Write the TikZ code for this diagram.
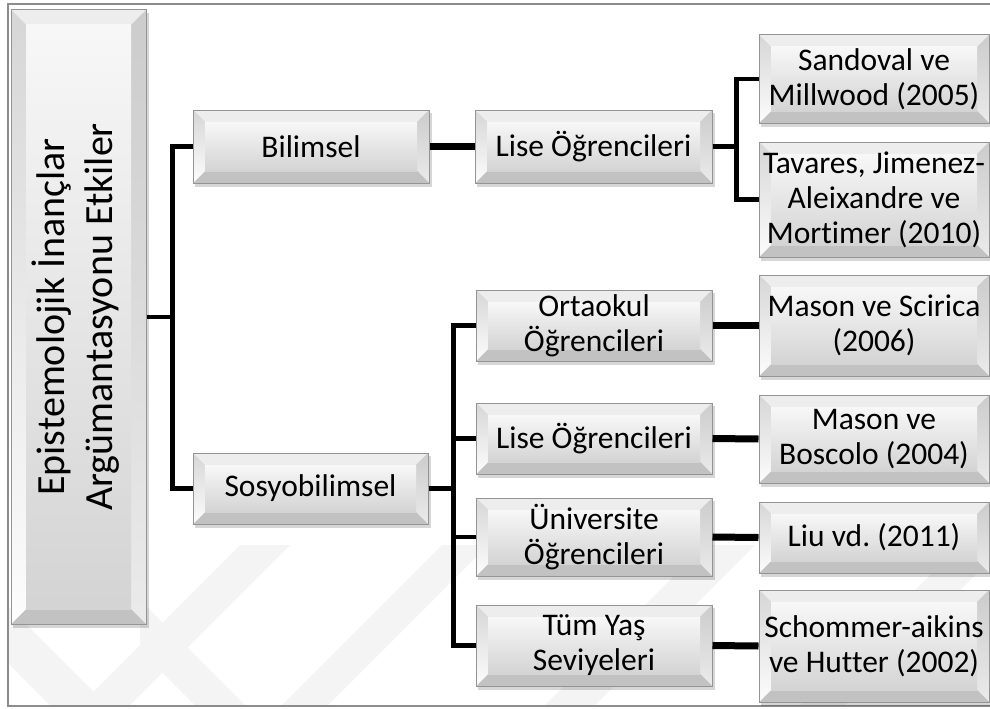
\documentclass[tikz,border=0pt]{standalone}
\usepackage{fontspec}
\setmainfont[Ligatures=NoCommon]{Carlito}
\frenchspacing
\usetikzlibrary{calc}

% greys of the bevelled boxes
\definecolor{framegray}{gray}{0.55}
\definecolor{edgegray}{gray}{0.58}
\definecolor{bvtopc}{gray}{0.93}
\definecolor{bvbotc}{gray}{0.76}
\definecolor{bvrighttop}{gray}{0.80}
\definecolor{bvrightbot}{gray}{0.92}
\definecolor{bvlefttop}{gray}{0.84}
\definecolor{bvleftbot}{gray}{0.99}
\definecolor{facetop}{gray}{0.97}
\definecolor{facebot}{gray}{0.83}
\definecolor{wmgray}{gray}{0.955}

\tikzset{
  boxshadow/.style={fill=black, opacity=0.16},
  bvtop/.style={fill=bvtopc},
  bvbot/.style={fill=bvbotc},
  bvright/.style={top color=bvrighttop, bottom color=bvrightbot},
  bvleft/.style={top color=bvlefttop, bottom color=bvleftbot},
  bvface/.style={top color=facetop, bottom color=facebot},
  boxframe/.style={draw=edgegray, line width=1pt, rectangle, inner sep=0pt,
    align=center, text=black, font=\fontsize{31.5}{35}\selectfont},
  elbow/.style={line width=4.7pt, black},
  link/.style={line width=7pt, black},
  mark band/.style={fill=wmgray},
}

% bevelled box: [inset]{name}{x1}{y1}{x2}{y2}{text}
\newcommand\bevbox[7][12]{%
  \fill[boxshadow] ({#3+2},{#4+3}) rectangle ({#5+2.5},{#6+3.5});
  \fill[bvtop] (#3,#4) -- (#5,#4) -- ({#5-#1},{#4+#1}) -- ({#3+#1},{#4+#1}) -- cycle;
  \shade[bvright] (#5,#4) -- (#5,#6) -- ({#5-#1},{#6-#1}) -- ({#5-#1},{#4+#1}) -- cycle;
  \fill[bvbot] (#5,#6) -- (#3,#6) -- ({#3+#1},{#6-#1}) -- ({#5-#1},{#6-#1}) -- cycle;
  \shade[bvleft] (#3,#6) -- (#3,#4) -- ({#3+#1},{#4+#1}) -- ({#3+#1},{#6-#1}) -- cycle;
  \shade[bvface] ({#3+#1},{#4+#1}) rectangle ({#5-#1},{#6-#1});
  \node[boxframe, minimum width={(#5-#3)*1pt}, minimum height={(#6-#4)*1pt}]
    (#2) at ({(#3+#5)/2},{(#4+#6)/2}) {#7};
}

\begin{document}
\begin{tikzpicture}[x=1pt,y=-1pt]
\useasboundingbox (0,0) rectangle (990,709);
\clip (0,0) rectangle (990,709);
\fill[white] (0,0) rectangle (990,709);

% faint diagonal bands in the lower part of the page
\begin{scope}
  \clip (8,545) rectangle (990,706);
  \fill[mark band] (0,598) -- (0,655) -- (60,715) -- (117,715) -- cycle;
  \fill[mark band] (140,600) -- (140,650) -- (205,715) -- (255,715) -- cycle;
  \fill[mark band] (70,715) -- (120,715) -- (330,505) -- (280,505) -- cycle;
  \fill[mark band] (272,715) -- (318,715) -- (528,505) -- (482,505) -- cycle;
  \fill[mark band] (535,715) -- (585,715) -- (795,505) -- (745,505) -- cycle;
  \fill[mark band] (790,715) -- (835,715) -- (1045,505) -- (1000,505) -- cycle;
\end{scope}

% page frame
\draw[framegray, line width=1.5pt] (1000,4) -- (8,4) -- (8,706) -- (1000,706);

% root
\bevbox[15]{root}{11}{10}{146}{624}{}
\node[rotate=90, align=center, font=\fontsize{40}{48}\selectfont]
  at ([xshift=-3pt]root.center) {Epistemolojik İnançlar\\Argümantasyonu Etkiler};

% second level
\bevbox{bil}{193}{110}{429}{183}{Bilimsel}
\bevbox{sos}{193}{453}{428}{524}{Sosyobilimsel}

% third level
\bevbox{liseA}{475}{110}{712}{183}{Lise Öğrencileri}
\bevbox{ort}{476}{290}{712}{361}{Ortaokul\\Öğrencileri}
\bevbox{liseB}{476}{403}{712}{474}{Lise Öğrencileri}
\bevbox{uni}{476}{498}{712}{576}{Üniversite\\Öğrencileri}
\bevbox{tum}{476}{605}{712}{686}{Tüm Yaş\\Seviyeleri}

% studies
\bevbox{sand}{759}{35}{989}{123}{Sandoval ve\\Millwood (2005)}
\bevbox{tav}{759}{142}{989}{257}{Tavares, Jimenez-\\Aleixandre ve\\Mortimer (2010)}
\bevbox{masc}{759}{275}{989}{376}{Mason ve Scirica\\(2006)}
\bevbox{masb}{759}{395}{989}{483}{Mason ve\\Boscolo (2004)}
\bevbox{liu}{759}{502}{989}{573}{Liu vd. (2011)}
\bevbox{sch}{759}{590}{989}{702}{Schommer-aikins\\ve Hutter (2002)}

% connectors
\draw[elbow] (root.east) -- ++(26,0) |- (bil.west);
\draw[elbow] (root.east) -- ++(26,0) |- (sos.west);
\draw[link] (bil.east) -- (liseA.west);
\draw[elbow] (liseA.east) -- ++(24,0) |- (sand.west);
\draw[elbow] (liseA.east) -- ++(24,0) |- (tav.west);
\draw[elbow] (sos.east) -- ++(25,0) |- (ort.west);
\draw[elbow] (sos.east) -- ++(25,0) |- (liseB.west);
\draw[elbow] (sos.east) -- ++(25,0) |- (uni.west);
\draw[elbow] (sos.east) -- ++(25,0) |- (tum.west);
\draw[link] (ort.east) -- (masc.west);
\draw[link] (liseB.east) -- (masb.west);
\draw[link] (uni.east) -- (liu.west);
\draw[link] (tum.east) -- (sch.west);
\end{tikzpicture}
\end{document}
